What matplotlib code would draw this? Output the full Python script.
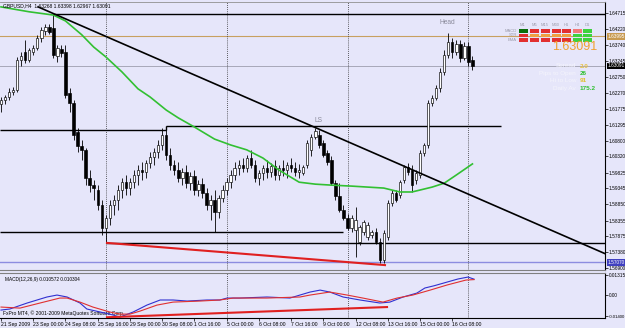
import numpy as np
import matplotlib
matplotlib.use("Agg")
import matplotlib.pyplot as plt
from matplotlib.patches import Rectangle
import matplotlib.transforms as mtransforms

plt.rcParams["font.family"] = ["Liberation Sans", "DejaVu Sans"]

# ---------------- data ----------------
title_text = "GBPUSD,H4  1.63268 1.63398 1.62967 1.63091"

opens = [1.6193, 1.6205, 1.6214, 1.6229, 1.6235, 1.6327, 1.6352, 1.6327, 1.6352, 1.6364,
         1.6395, 1.6416, 1.6429, 1.6426, 1.6340, 1.6361, 1.6352, 1.6226, 1.6196, 1.6107,
         1.6064, 1.6052, 1.5966, 1.5944, 1.5929, 1.5883, 1.5813, 1.5843, 1.5883, 1.5898,
         1.5929, 1.5953, 1.5935, 1.5953, 1.5975, 1.5990, 1.5984, 1.6012, 1.6030, 1.6045,
         1.6067, 1.6098, 1.6036, 1.6006, 1.5990, 1.5966, 1.5984, 1.5950, 1.5972, 1.5929,
         1.5947, 1.5920, 1.5883, 1.5898, 1.5862, 1.5905, 1.5929, 1.5953, 1.5975, 1.5996,
         1.6006, 1.5996, 1.6027, 1.6006, 1.5966, 1.5981, 1.5996, 1.5984, 1.6002, 1.5975,
         1.5996, 1.5990, 1.6006, 1.5996, 1.5984, 1.5981, 1.6006, 1.6052, 1.6091, 1.6098,
         1.6073, 1.6042, 1.6021, 1.5950, 1.5911, 1.5868, 1.5843, 1.5813, 1.5806, 1.5770,
         1.5800, 1.5785, 1.5791, 1.5800, 1.5770, 1.5714, 1.5785, 1.5889, 1.5920, 1.5914,
         1.5960, 1.5999, 1.5990, 1.5960, 1.5975, 1.6042, 1.6067, 1.6196, 1.6211, 1.6242,
         1.6291, 1.6343, 1.6383, 1.6352, 1.6376, 1.6334, 1.6370, 1.63268]
highs = [1.6214, 1.6220, 1.6242, 1.6245, 1.6337, 1.6352, 1.6389, 1.6364, 1.6373, 1.6404,
         1.6429, 1.6438, 1.6438, 1.6468, 1.6373, 1.6373, 1.6373, 1.6242, 1.6205, 1.6119,
         1.6082, 1.6058, 1.5990, 1.5960, 1.5944, 1.5898, 1.5852, 1.5898, 1.5914, 1.5944,
         1.5966, 1.5975, 1.5966, 1.5990, 1.6006, 1.6015, 1.6021, 1.6045, 1.6058, 1.6082,
         1.6119, 1.6125, 1.6058, 1.6021, 1.6015, 1.5996, 1.6006, 1.5984, 1.5990, 1.5960,
         1.5966, 1.5935, 1.5914, 1.5929, 1.5914, 1.5944, 1.5966, 1.5990, 1.6015, 1.6021,
         1.6027, 1.6036, 1.6052, 1.6021, 1.5990, 1.6006, 1.6021, 1.6012, 1.6021, 1.6006,
         1.6021, 1.6015, 1.6027, 1.6015, 1.6009, 1.6006, 1.6082, 1.6101, 1.6119, 1.6113,
         1.6082, 1.6052, 1.6033, 1.5960, 1.5950, 1.5883, 1.5856, 1.5852, 1.5877, 1.5822,
         1.5837, 1.5831, 1.5806, 1.5813, 1.5782, 1.5806, 1.5898, 1.5929, 1.5929, 1.5960,
         1.6006, 1.6012, 1.6006, 1.5990, 1.6052, 1.6073, 1.6205, 1.6220, 1.6251, 1.6303,
         1.6358, 1.6410, 1.6395, 1.6389, 1.6389, 1.6383, 1.6383, 1.63398]
lows = [1.6168, 1.6193, 1.6205, 1.6220, 1.6229, 1.6309, 1.6318, 1.6321, 1.6343, 1.6358,
        1.6383, 1.6404, 1.6407, 1.6334, 1.6321, 1.6337, 1.6211, 1.6168, 1.6082, 1.6045,
        1.6021, 1.5944, 1.5923, 1.5898, 1.5868, 1.5791, 1.5767, 1.5822, 1.5852, 1.5868,
        1.5905, 1.5914, 1.5914, 1.5935, 1.5944, 1.5960, 1.5966, 1.5996, 1.6006, 1.6027,
        1.6052, 1.6021, 1.5990, 1.5975, 1.5953, 1.5944, 1.5935, 1.5929, 1.5914, 1.5911,
        1.5905, 1.5868, 1.5837, 1.5800, 1.5843, 1.5892, 1.5914, 1.5935, 1.5960, 1.5975,
        1.5984, 1.5984, 1.5996, 1.5953, 1.5944, 1.5960, 1.5966, 1.5969, 1.5960, 1.5960,
        1.5972, 1.5966, 1.5984, 1.5972, 1.5966, 1.5975, 1.5996, 1.6033, 1.6085, 1.6058,
        1.6030, 1.6006, 1.5944, 1.5898, 1.5862, 1.5837, 1.5806, 1.5800, 1.5724, 1.5760,
        1.5791, 1.5776, 1.5782, 1.5764, 1.5705, 1.5705, 1.5776, 1.5880, 1.5892, 1.5905,
        1.5950, 1.5975, 1.5923, 1.5947, 1.5966, 1.6033, 1.6058, 1.6186, 1.6205, 1.6229,
        1.6281, 1.6334, 1.6334, 1.6343, 1.6321, 1.6327, 1.6309, 1.62967]
closes = [1.6205, 1.6214, 1.6229, 1.6235, 1.6327, 1.6340, 1.6327, 1.6358, 1.6364, 1.6395,
          1.6419, 1.6429, 1.6413, 1.6343, 1.6364, 1.6349, 1.6220, 1.6196, 1.6098, 1.6064,
          1.6052, 1.5966, 1.5944, 1.5935, 1.5883, 1.5813, 1.5843, 1.5883, 1.5898, 1.5929,
          1.5953, 1.5935, 1.5953, 1.5975, 1.5990, 1.5984, 1.6012, 1.6030, 1.6045, 1.6067,
          1.6098, 1.6036, 1.6006, 1.5990, 1.5966, 1.5984, 1.5950, 1.5972, 1.5929, 1.5947,
          1.5920, 1.5883, 1.5898, 1.5862, 1.5905, 1.5929, 1.5953, 1.5975, 1.5996, 1.6006,
          1.5996, 1.6027, 1.6006, 1.5966, 1.5981, 1.5996, 1.5984, 1.6002, 1.5975, 1.5996,
          1.5990, 1.6006, 1.5996, 1.5984, 1.5990, 1.5999, 1.6073, 1.6091, 1.6110, 1.6067,
          1.6036, 1.6015, 1.5950, 1.5911, 1.5868, 1.5843, 1.5813, 1.5843, 1.5837, 1.5816,
          1.5831, 1.5822, 1.5800, 1.5770, 1.5714, 1.5797, 1.5889, 1.5920, 1.5898, 1.5953,
          1.5999, 1.5984, 1.5944, 1.5981, 1.6042, 1.6067, 1.6196, 1.6211, 1.6242, 1.6291,
          1.6343, 1.6383, 1.6352, 1.6376, 1.6334, 1.6370, 1.6321, 1.63091]

ma_bars = [0, 7, 13, 16, 20, 23, 26, 30, 34, 37, 41, 44, 48, 53, 57, 61, 65, 69, 74,
           78, 82, 87, 95, 99, 102, 107, 110, 113, 117]
ma_values = [1.6490, 1.6475, 1.6465, 1.6447, 1.6405, 1.6367, 1.6337, 1.6291, 1.6239, 1.6214,
             1.6174, 1.6150, 1.6122, 1.6085, 1.6067, 1.6052, 1.6027, 1.5990, 1.5953,
             1.5947, 1.5944, 1.5941, 1.5935, 1.5923, 1.5923, 1.5938, 1.5950, 1.5975, 1.6009]

macd_bars = [0, 2.2, 6.5, 11.4, 13.9, 16.4, 19.6, 21.3, 24.6, 27.8, 29.5, 32.8, 36.2, 39.5,
             42.7, 46.2, 51.1, 54.3, 56.1, 59.3, 66, 71.7, 76.7, 79.2, 81.6, 84.9, 89.1,
             94, 96.5, 99.8, 103.2, 105.2, 107.5, 113.4, 115.9, 117.4]
macd_main = [-0.0100, -0.0093, -0.0053, -0.0013, 0.0000, -0.0013, -0.0053, -0.0093, -0.0113,
             -0.0133, -0.0147, -0.0113, -0.0067, -0.0033, -0.0033, -0.0040, -0.0033, -0.0033,
             -0.0020, -0.0020, -0.0013, -0.0020, 0.0020, 0.0033, 0.0020, -0.0013, -0.0033,
             -0.0053, -0.0047, -0.0013, 0.0013, 0.0047, 0.0062, 0.0107, 0.0120, 0.0106]
signal_bars = [0, 4.7, 9.7, 14.6, 16.4, 19.6, 22.8, 27, 29.5, 32, 34.5, 38.7, 42.7, 49.4,
               54.3, 57.6, 66, 74.2, 76.7, 81.6, 85.9, 89.8, 94.8, 98.3, 102.2, 106.5,
               110.7, 115.4, 117.4]
macd_signal = [-0.0080, -0.0087, -0.0053, -0.0020, -0.0020, -0.0047, -0.0080, -0.0113, -0.0127,
               -0.0127, -0.0107, -0.0067, -0.0047, -0.0040, -0.0033, -0.0020, -0.0020, -0.0013,
               0.0000, 0.0020, 0.0000, -0.0020, -0.0047, -0.0020, 0.0000, 0.0033, 0.0067,
               0.0100, 0.0103]

time_label_bars = [0, 8, 16, 24, 32, 40, 48, 56, 64, 72, 80, 88, 96, 104, 112]
time_labels = ["21 Sep 2009", "23 Sep 00:00", "24 Sep 08:00", "25 Sep 16:00", "29 Sep 00:00",
               "30 Sep 08:00", "1 Oct 16:00", "5 Oct 00:00", "6 Oct 08:00", "7 Oct 16:00",
               "9 Oct 00:00", "12 Oct 08:00", "13 Oct 16:00", "15 Oct 00:00", "16 Oct 08:00"]
week_start_bars = [26, 56, 86, 116]

price_ticks = [1.64715, 1.64220, 1.63740, 1.63245, 1.62750, 1.62270, 1.61775, 1.61295,
               1.60800, 1.60320, 1.59825, 1.59345, 1.58850, 1.58355, 1.57875, 1.57380, 1.56900]
macd_ticks = [0.01315, 0.0, -0.01400]
macd_tick_labels = ["0.01315", "0.00", "-0.01400"]

bid_price = 1.63091
orange_level = 1.63995
low_level = 1.57070
top_level, top_level_start = 1.6468, 13
neck_left, neck_right, neck_step, neck_end = 1.6113, 1.6125, 41, 124
support_a, support_a_end = 1.5800, 85
support_b, support_b_start = 1.5767, 26
trend_bars = [9.2, 77.7]
trend_prices = [1.6490, 1.6122]
div_bars = [26.3, 95.3]
div_prices = [1.5767, 1.5699]
macd_div_bars = [26.3, 95.8]
macd_div_values = [-0.0148, -0.0080]

panel_cols = ["M1", "M5", "M15", "M30", "H1", "H4", "D1"]
panel_rows = ["MACD", "STR", "EMA"]
DG, R, LR, O, G = "#0a6e0a", "#e23030", "#f07878", "#f0a040", "#3ed23e"
panel_colors = [[DG, R, R, R, R, LR, G],
                [R, O, O, O, O, G, G],
                [R, R, R, R, R, G, G]]
info_labels = ["Spread", "Pips to Open", "Hi to Low", "Daily Av"]
info_values = ["2.0", "26", "91", "175.2"]
info_colors = ["#e8c040", "#30c030", "#e0c030", "#30c030"]

# ---------------- figure ----------------
W, H = 625, 328
BG = "#e6e6fa"
fig = plt.figure(figsize=(W / 100, H / 100), dpi=100, facecolor=BG)

def fx(px):
    return px / W

def fy(py):
    return 1 - py / H

ax = fig.add_axes([0, fy(270), fx(605), fy(2) - fy(270)], facecolor=BG)
axm = fig.add_axes([0, fy(318), fx(605), fy(273) - fy(318)], facecolor=BG, sharex=ax)

xlim = (-0.25, 149.9)
ax.set_xlim(*xlim)
ax.set_ylim(1.5684, 1.6505)
axm.set_ylim(-0.0153, 0.0147)

n = len(closes)
idx = np.arange(n)
o = np.array(opens); h = np.array(highs); l = np.array(lows); c = np.array(closes)

# horizontal reference lines
ax.axhline(orange_level, color="#c8a060", lw=0.8, zorder=1)
ax.axhline(bid_price, color="#a8a8b8", lw=0.7, zorder=1)
ax.axhline(low_level, color="#8c8ce0", lw=1.0, zorder=1)
ax.hlines(top_level, top_level_start, xlim[1], color="black", lw=1.0, zorder=2)
ax.hlines(neck_left, xlim[0], neck_step, color="black", lw=1.0, zorder=2)
ax.hlines(neck_right, neck_step, neck_end, color="black", lw=1.0, zorder=2)
ax.vlines(neck_step, neck_left, neck_right, color="black", lw=1.0, zorder=2)
ax.hlines(support_a, xlim[0], support_a_end, color="black", lw=1.0, zorder=2)
ax.hlines(support_b, support_b_start, xlim[1], color="black", lw=1.0, zorder=2)

# period separators
for b in week_start_bars:
    for a in (ax, axm):
        a.axvline(b, color="#303030", lw=0.6, ls=(0, (1, 1.5)), zorder=1)

# candles
up = c >= o
ax.vlines(idx, l, h, color="black", lw=0.6, zorder=3)
body_lo = np.minimum(o, c)
body_h = np.maximum(np.abs(c - o), 0.00008)
ax.bar(idx[up], body_h[up], bottom=body_lo[up], width=0.6, color="white",
       edgecolor="black", linewidth=0.45, zorder=4)
ax.bar(idx[~up], body_h[~up], bottom=body_lo[~up], width=0.6, color="black",
       edgecolor="black", linewidth=0.45, zorder=4)

# moving average
ax.plot(ma_bars, ma_values, color="#32c032", lw=1.2, zorder=5)

# trend line extended to the right
slope = (trend_prices[1] - trend_prices[0]) / (trend_bars[1] - trend_bars[0])
tx = np.array([trend_bars[0], xlim[1]])
ax.plot(tx, trend_prices[0] + slope * (tx - trend_bars[0]), color="black", lw=1.2, zorder=6)

# divergence line
ax.plot(div_bars, div_prices, color="#e02020", lw=1.5, zorder=6)

# labels on chart
ax.text(78.7, 1.6131, "LS", fontsize=4.8, color="#8a8a9a", ha="center", va="bottom")
ax.text(110.7, 1.6432, "Head", fontsize=4.8, color="#8a8a9a", ha="center", va="bottom")

# right axis
for a in (ax, axm):
    a.yaxis.tick_right()
    a.tick_params(axis="y", direction="out", length=2, width=0.5, labelsize=3.4, pad=0.6,
                  colors="black")
    a.spines["left"].set_visible(False)
    a.spines["right"].set_color("black")
    a.spines["right"].set_linewidth(0.8)
ax.set_yticks(price_ticks)
ax.set_yticklabels([f"{p:.5f}" for p in price_ticks])
axm.set_yticks(macd_ticks)
axm.set_yticklabels(macd_tick_labels)
axm.get_yticklabels()[-1].set_fontsize(3.1)

ax.spines["top"].set_color("#909090")
ax.spines["top"].set_linewidth(0.6)
ax.spines["bottom"].set_color("#808080")
ax.spines["bottom"].set_linewidth(0.8)
axm.spines["top"].set_color("#808080")
axm.spines["top"].set_linewidth(0.8)
axm.spines["bottom"].set_color("black")
axm.spines["bottom"].set_linewidth(0.8)
ax.tick_params(axis="x", bottom=False, labelbottom=False)

axm.set_xticks(time_label_bars)
axm.set_xticklabels(time_labels)
axm.tick_params(axis="x", direction="out", length=2, width=0.5, labelsize=3.7, pad=1)
for t in axm.get_xticklabels():
    t.set_ha("left")

# highlighted price boxes on the scale
trans = mtransforms.blended_transform_factory(ax.transAxes, ax.transData)
for val, fc in ((orange_level, "#c89a50"), (bid_price, "black"), (low_level, "#4040c0")):
    ax.text(1.0045, val, f"{val:.5f}", transform=trans, fontsize=3.4, color="white",
            va="center", ha="left", zorder=10, clip_on=False,
            bbox=dict(boxstyle="square,pad=0.15", fc=fc, ec="none"))

# MACD panel
axm.plot(macd_bars, macd_main, color="#3030d0", lw=0.8, zorder=4)
axm.plot(signal_bars, macd_signal, color="#e03030", lw=0.8, zorder=4)
axm.plot(macd_div_bars, macd_div_values, color="#e02020", lw=1.5, zorder=5)
axm.text(0.008, 0.86, "MACD(12,26,9) 0.010572 0.010304", transform=axm.transAxes,
         fontsize=3.4, color="black", va="center", ha="left")
axm.text(0.005, 0.1, "FxPro MT4, \u00a9 2001-2009 MetaQuotes Software Corp.",
         transform=axm.transAxes, fontsize=3.6, color="black", va="center", ha="left")

# title
fig.text(fx(3), fy(6), title_text, fontsize=3.6, color="black", va="center", ha="left")

# info panel (signal grid)
col_x = [523, 534, 545, 556, 566, 577, 587]
row_y = [31, 35.5, 40]
for j, name in enumerate(panel_cols):
    fig.text(fx(col_x[j]), fy(25), name, fontsize=3.0, color="#9a9aaa", ha="center", va="center")
for i, name in enumerate(panel_rows):
    fig.text(fx(517), fy(row_y[i]), name, fontsize=3.0, color="#9a9aaa", ha="right", va="center")
    for j in range(len(panel_cols)):
        fig.add_artist(Rectangle((fx(col_x[j] - 4.5), fy(row_y[i] + 1.8)), fx(9), 3.6 / H,
                                 transform=fig.transFigure, facecolor=panel_colors[i][j],
                                 edgecolor="none"))

fig.text(fx(597), fy(47), f"{bid_price:.5f}", fontsize=9, color="#f0a030",
         ha="right", va="center")

info_y = [66, 73.5, 81, 88.5]
for k in range(len(info_labels)):
    fig.text(fx(576), fy(info_y[k]), info_labels[k], fontsize=4.6, color="#f4f4fc",
             ha="right", va="center")
    fig.text(fx(580), fy(info_y[k]), info_values[k], fontsize=4.6, color=info_colors[k],
             ha="left", va="center", fontweight="bold")

fig.savefig("out.png", dpi=100, facecolor=BG)
